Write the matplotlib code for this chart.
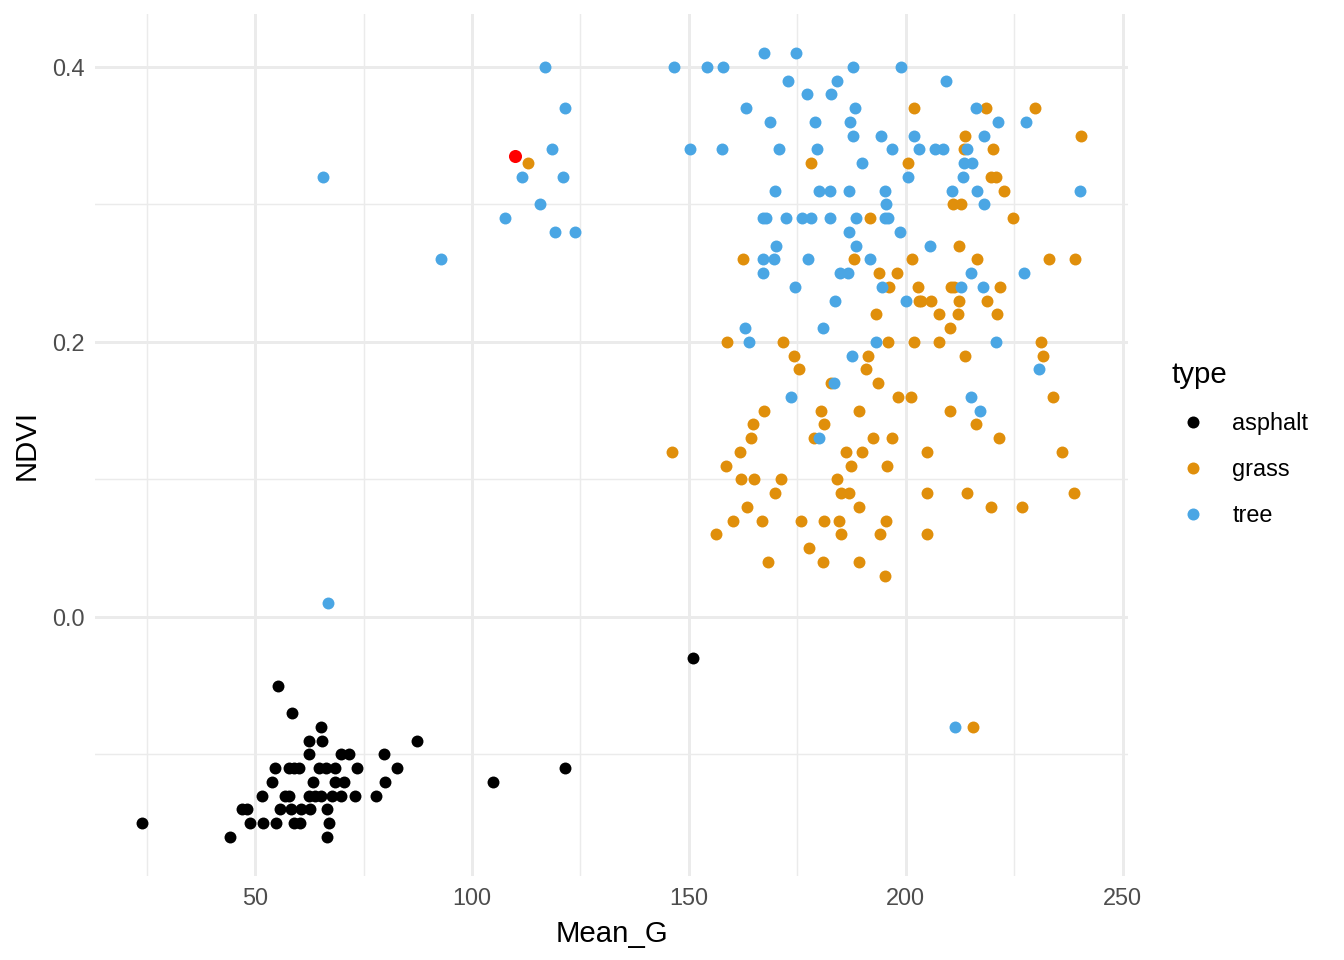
import numpy as np
import matplotlib
matplotlib.use("Agg")
import matplotlib.pyplot as plt
from matplotlib.lines import Line2D

plt.rcParams['font.family'] = ['Liberation Sans', 'DejaVu Sans']

# asphalt points
asphalt_x = [151.0, 55.2, 58.5, 65.1, 62.5, 65.3, 87.4,
             62.3, 69.9, 71.7, 79.6,
             54.5, 57.7, 59.0, 60.2, 64.8, 66.3, 68.5, 73.4, 82.7, 121.5,
             53.8, 63.3, 68.4, 70.5, 80.0, 104.9,
             51.6, 56.8, 57.8, 62.5, 63.8, 65.2, 67.6, 69.9, 73.1, 77.8,
             46.9, 48.1, 55.8, 58.2, 60.6, 62.7, 66.6,
             23.9, 48.8, 51.8, 54.7, 59.0, 60.4, 67.0,
             44.1, 66.6]
asphalt_y = [-0.03, -0.05, -0.07, -0.08, -0.09, -0.09, -0.09,
             -0.10, -0.10, -0.10, -0.10,
             -0.11, -0.11, -0.11, -0.11, -0.11, -0.11, -0.11, -0.11, -0.11, -0.11,
             -0.12, -0.12, -0.12, -0.12, -0.12, -0.12,
             -0.13, -0.13, -0.13, -0.13, -0.13, -0.13, -0.13, -0.13, -0.13, -0.13,
             -0.14, -0.14, -0.14, -0.14, -0.14, -0.14, -0.14,
             -0.15, -0.15, -0.15, -0.15, -0.15, -0.15, -0.15,
             -0.16, -0.16]

# grass points
grass_x = [201.8, 218.5, 229.7,
           213.7, 240.4,
           213.5, 220.0,
           112.9, 178.1, 200.6,
           219.7, 220.7,
           222.7,
           210.8, 212.8,
           191.8, 224.8,
           212.2,
           162.5, 188.1, 201.4, 216.4, 233.0, 239.1,
           193.8, 197.9,
           196.1, 202.8, 210.4, 211.2, 221.7,
           203.0, 203.6, 205.7, 212.3, 218.8,
           193.2, 207.6, 212.1, 221.0,
           210.1,
           158.8, 171.8, 195.8, 202.0, 207.6, 231.1,
           174.2, 191.2, 213.6, 231.6,
           175.3, 190.8,
           182.8, 193.6,
           198.3, 201.2, 233.9,
           167.3, 180.4, 189.3, 210.3,
           164.8, 181.1, 216.1,
           164.2, 178.9, 192.4, 196.9, 221.4,
           146.2, 161.8, 186.3, 189.9, 205.0, 236.0,
           158.6, 187.4, 195.7,
           162.0, 165.0, 171.2, 184.1,
           169.9, 185.0, 186.8, 205.0, 214.0, 238.8,
           163.5, 189.3, 219.6, 226.8,
           160.2, 166.8, 175.8, 181.2, 184.7, 195.5,
           156.3, 185.0, 194.1, 205.0,
           177.7,
           168.2, 180.8, 189.3,
           195.2,
           215.4]
grass_y = [0.37, 0.37, 0.37,
           0.35, 0.35,
           0.34, 0.34,
           0.33, 0.33, 0.33,
           0.32, 0.32,
           0.31,
           0.30, 0.30,
           0.29, 0.29,
           0.27,
           0.26, 0.26, 0.26, 0.26, 0.26, 0.26,
           0.25, 0.25,
           0.24, 0.24, 0.24, 0.24, 0.24,
           0.23, 0.23, 0.23, 0.23, 0.23,
           0.22, 0.22, 0.22, 0.22,
           0.21,
           0.20, 0.20, 0.20, 0.20, 0.20, 0.20,
           0.19, 0.19, 0.19, 0.19,
           0.18, 0.18,
           0.17, 0.17,
           0.16, 0.16, 0.16,
           0.15, 0.15, 0.15, 0.15,
           0.14, 0.14, 0.14,
           0.13, 0.13, 0.13, 0.13, 0.13,
           0.12, 0.12, 0.12, 0.12, 0.12, 0.12,
           0.11, 0.11, 0.11,
           0.10, 0.10, 0.10, 0.10,
           0.09, 0.09, 0.09, 0.09, 0.09, 0.09,
           0.08, 0.08, 0.08, 0.08,
           0.07, 0.07, 0.07, 0.07, 0.07, 0.07,
           0.06, 0.06, 0.06, 0.06,
           0.05,
           0.04, 0.04, 0.04,
           0.03,
           -0.08]

# tree points
tree_x = [167.3, 174.8,
          116.9, 146.5, 154.2, 157.9, 187.8, 199.0,
          172.8, 184.1, 209.3,
          177.2, 182.8,
          121.5, 163.1, 188.4, 216.1,
          168.7, 179.0, 187.1, 221.2, 227.6,
          187.8, 194.2, 201.8, 218.0,
          118.5, 150.2, 157.6, 170.7, 179.5, 196.9, 203.1, 206.8, 208.5, 214.0,
          189.8, 213.4, 215.2,
          65.7, 111.6, 121.0, 200.4, 213.1,
          169.8, 179.9, 182.6, 186.8, 195.1, 210.7, 216.3, 240.1,
          115.7, 195.4, 218.0,
          107.7, 167.0, 167.7, 172.4, 176.0, 178.1, 182.5, 188.5, 195.2, 196.0,
          119.2, 123.8, 186.8, 198.6,
          170.1, 188.6, 205.5,
          92.9, 167.1, 169.7, 177.5, 191.7,
          167.0, 184.8, 186.6, 215.1, 227.3,
          174.5, 194.5, 212.7, 217.7,
          183.7, 200.0,
          162.9, 180.9,
          163.9, 193.1, 220.9,
          187.5,
          230.6,
          183.5,
          173.5, 215.1,
          217.1,
          179.9,
          66.8,
          211.4]
tree_y = [0.41, 0.41,
          0.40, 0.40, 0.40, 0.40, 0.40, 0.40,
          0.39, 0.39, 0.39,
          0.38, 0.38,
          0.37, 0.37, 0.37, 0.37,
          0.36, 0.36, 0.36, 0.36, 0.36,
          0.35, 0.35, 0.35, 0.35,
          0.34, 0.34, 0.34, 0.34, 0.34, 0.34, 0.34, 0.34, 0.34, 0.34,
          0.33, 0.33, 0.33,
          0.32, 0.32, 0.32, 0.32, 0.32,
          0.31, 0.31, 0.31, 0.31, 0.31, 0.31, 0.31, 0.31,
          0.30, 0.30, 0.30,
          0.29, 0.29, 0.29, 0.29, 0.29, 0.29, 0.29, 0.29, 0.29, 0.29,
          0.28, 0.28, 0.28, 0.28,
          0.27, 0.27, 0.27,
          0.26, 0.26, 0.26, 0.26, 0.26,
          0.25, 0.25, 0.25, 0.25, 0.25,
          0.24, 0.24, 0.24, 0.24,
          0.23, 0.23,
          0.21, 0.21,
          0.20, 0.20, 0.20,
          0.19,
          0.18,
          0.17,
          0.16, 0.16,
          0.15,
          0.13,
          0.01,
          -0.08]

# highlighted point
highlight_x = [109.9]
highlight_y = [0.335]

types = ['asphalt', 'grass', 'tree']
colors = {'asphalt': '#000000', 'grass': '#E08F0B', 'tree': '#4AA6E4'}

fig = plt.figure(figsize=(7, 5), dpi=192)
ax = fig.add_axes([95 / 1344, 1 - 876 / 960, (1128 - 95) / 1344, (876 - 14) / 960])

ax.scatter(asphalt_x, asphalt_y, s=20, color=colors['asphalt'], linewidths=0, zorder=3)
ax.scatter(grass_x, grass_y, s=20, color=colors['grass'], linewidths=0, zorder=3)
ax.scatter(tree_x, tree_y, s=20, color=colors['tree'], linewidths=0, zorder=3)
ax.scatter(highlight_x, highlight_y, s=24, color='#FF0000', linewidths=0, zorder=4)

# ggplot-like limits (5% expansion)
all_x = asphalt_x + grass_x + tree_x
all_y = asphalt_y + grass_y + tree_y
xr = max(all_x) - min(all_x)
yr = max(all_y) - min(all_y)
ax.set_xlim(min(all_x) - 0.05 * xr, max(all_x) + 0.05 * xr)
ax.set_ylim(min(all_y) - 0.05 * yr, max(all_y) + 0.05 * yr)

ax.set_xticks([50, 100, 150, 200, 250])
ax.set_yticks([0.0, 0.2, 0.4])
ax.set_yticklabels(['0.0', '0.2', '0.4'])
ax.set_xticks([25, 75, 125, 175, 225], minor=True)
ax.set_yticks([-0.1, 0.1, 0.3], minor=True)

ax.grid(which='major', color='#EBEBEB', linewidth=1.1)
ax.grid(which='minor', color='#EBEBEB', linewidth=0.55)
ax.set_axisbelow(True)
for sp in ax.spines.values():
    sp.set_visible(False)
ax.tick_params(which='both', length=0)
ax.tick_params(labelsize=8.8, labelcolor='#4D4D4D', pad=4)

ax.set_xlabel('Mean_G', fontsize=11, labelpad=4)
ax.set_ylabel('NDVI', fontsize=11, labelpad=4)

handles = [Line2D([], [], marker='o', linestyle='', markersize=4.5,
                  markerfacecolor=colors[t], markeredgewidth=0) for t in types]
leg = fig.legend(handles, types, title='type', loc='upper left',
                 bbox_to_anchor=(1162 / 1344, 1 - 351.5 / 960), frameon=False,
                 fontsize=8.8, title_fontsize=11, alignment='left',
                 handletextpad=0.8, labelspacing=0.98, handlelength=1.8,
                 borderaxespad=0)

fig.savefig('out.png', dpi=192)
